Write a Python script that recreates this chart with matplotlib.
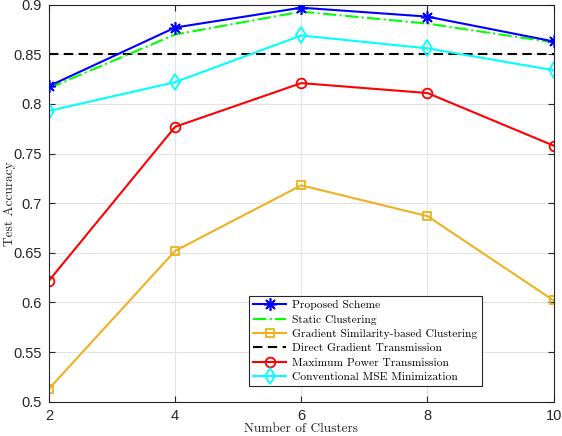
import matplotlib
matplotlib.use("Agg")
import matplotlib.pyplot as plt

# Data
clusters = [2, 4, 6, 8, 10]
proposed = [0.818, 0.877, 0.897, 0.888, 0.863]
static_clust = [0.816, 0.870, 0.893, 0.881, 0.862]
grad_sim = [0.513, 0.652, 0.718, 0.687, 0.602]
direct_grad = [0.85, 0.85, 0.85, 0.85, 0.85]
max_power = [0.622, 0.777, 0.821, 0.811, 0.758]
conv_mse = [0.793, 0.822, 0.869, 0.856, 0.834]

yticks = [0.5, 0.55, 0.6, 0.65, 0.7, 0.75, 0.8, 0.85, 0.9]
ytick_labels = ["0.5", "0.55", "0.6", "0.65", "0.7", "0.75", "0.8", "0.85", "0.9"]

dark = "#262626"
serif = "cmr10"

fig = plt.figure(figsize=(5.62, 4.36), dpi=100)
ax = fig.add_axes([0.0872, 0.0787, 0.8978, 0.9105])

lw = 1.5
ax.plot(clusters, proposed, color="#0000ff", lw=lw, marker=(8, 2, 0), ms=9,
        mew=1.2, label="Proposed Scheme", zorder=6)
ax.plot(clusters, static_clust, color="#00ff00", lw=lw, ls="-.",
        label="Static Clustering", zorder=5)
ax.plot(clusters, grad_sim, color="#EDB120", lw=lw, marker="s", ms=6,
        mfc="none", mew=1.3, label="Gradient Similarity-based Clustering")
ax.plot(clusters, direct_grad, color="black", lw=lw, ls=(0, (4.5, 2.6)),
        label="Direct Gradient Transmission")
ax.plot(clusters, max_power, color="#ff0000", lw=lw, marker="o", ms=7,
        mfc="none", mew=1.3, label="Maximum Power Transmission")
ax.plot(clusters, conv_mse, color="#00ffff", lw=lw, marker="d", ms=8,
        mfc="none", mew=1.3, label="Conventional MSE Minimization")

ax.set_xlim(2, 10)
ax.set_ylim(0.5, 0.9)
ax.set_xticks(clusters)
ax.set_xticklabels([str(c) for c in clusters])
ax.set_yticks(yticks)
ax.set_yticklabels(ytick_labels)

ax.grid(True, color="#e3e3e3", lw=0.8)
ax.set_axisbelow(True)
ax.tick_params(direction="in", length=4, width=0.8, top=True, right=True,
               colors=dark, labelsize=10.5, pad=5)
for lab in ax.get_xticklabels() + ax.get_yticklabels():
    lab.set_fontfamily("Liberation Sans")
for sp in ax.spines.values():
    sp.set_color(dark)
    sp.set_linewidth(0.8)

ax.set_xlabel("Number of Clusters", fontfamily=serif, fontsize=9.6,
              color=dark)
ax.set_ylabel("Test Accuracy", fontfamily=serif, fontsize=9.6,
              color=dark)
ax.xaxis.set_label_coords(0.5, -0.053)
ax.yaxis.set_label_coords(-0.066, 0.5)

leg = ax.legend(loc="upper left", bbox_to_anchor=(249 / 562, 1 - 296 / 436),
                bbox_transform=fig.transFigure, borderaxespad=0,
                prop={"family": serif, "size": 8.3}, handlelength=2.9,
                labelspacing=0.38, borderpad=0.35, handletextpad=0.5,
                fancybox=False, framealpha=1, edgecolor=dark)
leg.get_frame().set_linewidth(0.8)

fig.savefig("out.png", dpi=100)
